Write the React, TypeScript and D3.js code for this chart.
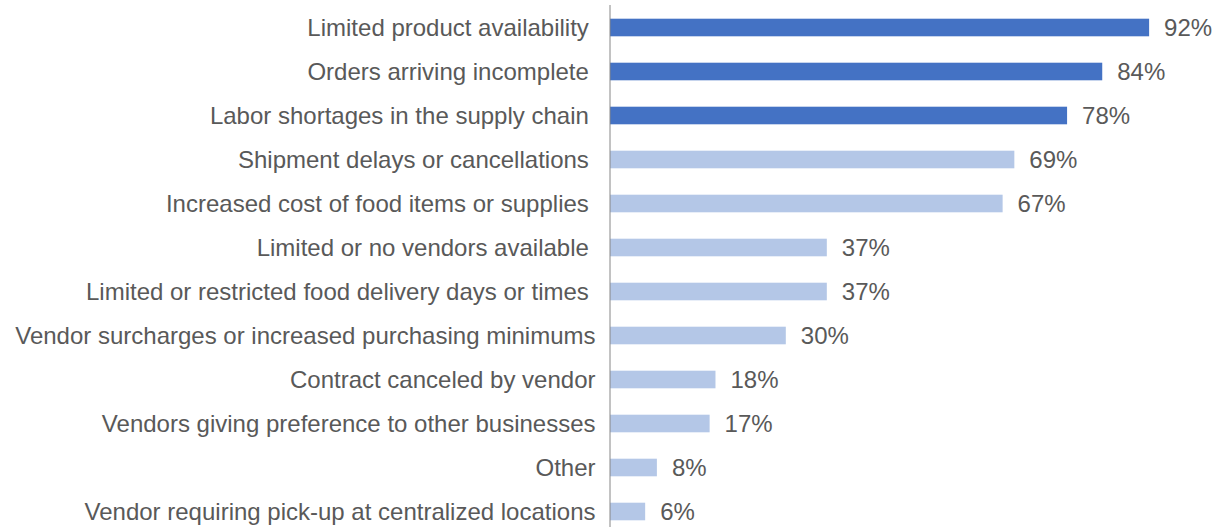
import React from "react";
import * as d3 from "d3";

const categories = [
  "Limited product availability ",
  "Orders arriving incomplete ",
  "Labor shortages in the supply chain ",
  "Shipment delays or cancellations ",
  "Increased cost of food items or supplies ",
  "Limited or no vendors available ",
  "Limited or restricted food delivery days or times ",
  "Vendor surcharges or increased purchasing minimums",
  "Contract canceled by vendor",
  "Vendors giving preference to other businesses",
  "Other",
  "Vendor requiring pick-up at centralized locations",
];
const values = [92, 84, 78, 69, 67, 37, 37, 30, 18, 17, 8, 6];
const highlighted = [true, true, true, false, false, false, false, false, false, false, false, false];

const W = 1224;
const H = 527;

export default function App() {
  const x = d3.scaleLinear().domain([0, 100]).range([610, 1196]);
  const y = d3
    .scaleBand<string>()
    .domain(categories)
    .range([5.5, 533.5])
    .paddingInner(0.6)
    .paddingOuter(0.3);
  const fmt = (v: number) => `${v}%`;
  return (
    <svg
      width={W}
      height={H}
      style={{ position: "absolute", left: 0, top: 0, background: "#fff" }}
      fontFamily="'Liberation Sans', Arial, sans-serif"
      fontSize={24}
    >
      {categories.map((c, i) => (
        <g key={c}>
          <rect
            x={x(0)}
            y={y(c)!}
            width={x(values[i]) - x(0)}
            height={y.bandwidth()}
            fill={highlighted[i] ? "#4472C4" : "#B4C7E7"}
          />
          <text
            x={595.5}
            y={y(c)! + y.bandwidth() / 2}
            dy="0.35em"
            textAnchor="end"
            fill="#595959"
            style={{ whiteSpace: "pre" }}
          >
            {c}
          </text>
          <text
            x={x(values[i]) + 15}
            y={y(c)! + y.bandwidth() / 2}
            dy="0.35em"
            fill="#595959"
          >
            {fmt(values[i])}
          </text>
        </g>
      ))}
      <line x1={x(0)} x2={x(0)} y1={5} y2={H} stroke="#868686" strokeWidth={1} />
    </svg>
  );
}
